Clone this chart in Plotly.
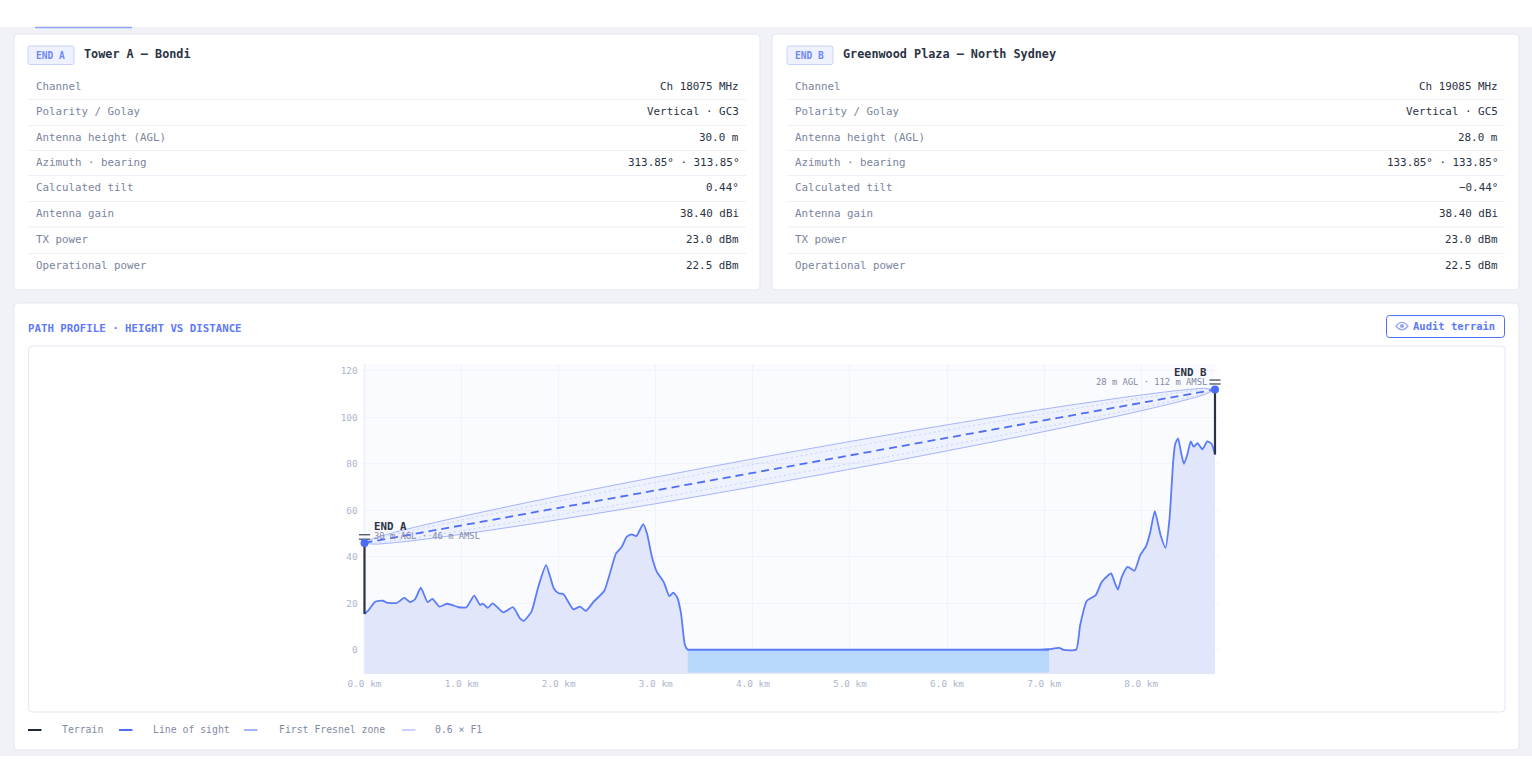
import plotly.graph_objects as go

W, H = 1532, 784
MONO = "DejaVu Sans Mono"

# Radio parameters for the two link ends
row_labels = ["Channel", "Polarity / Golay", "Antenna height (AGL)", "Azimuth · bearing",
              "Calculated tilt", "Antenna gain", "TX power", "Operational power"]
end_a_values = ["Ch 18075 MHz", "Vertical · GC3", "30.0 m", "313.85° · 313.85°",
                "0.44°", "38.40 dBi", "23.0 dBm", "22.5 dBm"]
end_b_values = ["Ch 19085 MHz", "Vertical · GC5", "28.0 m", "133.85° · 133.85°",
                "−0.44°", "38.40 dBi", "23.0 dBm", "22.5 dBm"]

# Ground profile along the path
terrain_km = [0, .04, .11, .19, .23, .33, .41, .47, .52, .58, .65, .70, .77, .85, .90, .97, 1.05,
              1.13, 1.19, 1.22, 1.27, 1.32, 1.43, 1.53, 1.60, 1.64, 1.72, 1.79, 1.87, 1.95, 2.0,
              2.05, 2.15, 2.22, 2.28, 2.36, 2.47, 2.59, 2.65, 2.70, 2.75, 2.80, 2.87, 2.91, 2.96,
              3.01, 3.08, 3.14, 3.18, 3.22, 3.26, 3.30, 3.33, 7.0, 7.06, 7.155, 7.2, 7.33, 7.37,
              7.44, 7.53, 7.59, 7.66, 7.69, 7.73, 7.76, 7.80, 7.86, 7.93, 7.99, 8.05, 8.09, 8.14,
              8.20, 8.25, 8.29, 8.33, 8.35, 8.38, 8.41, 8.44, 8.475, 8.51, 8.54, 8.58, 8.63, 8.68,
              8.725, 8.76]
terrain_m = [15.4, 17, 20.7, 21.1, 20.3, 20.1, 22.3, 20.5, 21.7, 26.7, 20.5, 21.9, 18.6, 19.8, 19.3,
             18.3, 18.3, 23.3, 19.3, 19.9, 18, 20, 16.1, 18.3, 13.6, 12.4, 16.4, 27.1, 36.4, 26.4,
             24.3, 23.9, 17.4, 18.6, 16.7, 20.7, 25.4, 41.4, 44.3, 48.6, 49.7, 48.9, 54.1, 50, 40,
             33.6, 29.3, 23.1, 24.6, 22.6, 15.7, 2.1, 0, 0, 0.3, 0.8, 0, 0, 10.4, 21.1, 23.4, 28.9,
             32.1, 32.9, 28.6, 25.9, 31.4, 35.7, 34, 40.7, 44.6, 50, 59.7, 49.3, 43.9, 55.7, 81.4,
             88.6, 91, 85, 80, 84, 89.7, 87.4, 88.9, 86.3, 89.7, 88.6, 84]
floor_km = [0, 8.76]
floor_m = [-10, -10]
water_km = [3.33, 7.05, 7.05, 3.33, 3.33]
water_m = [0, 0, -10, -10, 0]

# Line of sight and Fresnel envelopes
los_km = [0, 8.76]
los_m = [46, 112]
zone_km = [0, .1, .25, .5, 1, 1.5, 2, 3, 4, 4.38, 4.76, 5.76, 6.76, 7.26, 7.76, 8.26, 8.51, 8.66, 8.76]
f1_upper = [46, 48.03, 49.89, 52.57, 57.36, 61.84, 66.13, 74.32, 82.15, 85.03, 87.87, 95.12, 101.99,
            105.24, 108.29, 111.03, 112.12, 112.53, 112]
f1_lower = [46, 45.47, 45.87, 46.97, 49.7, 52.76, 56.01, 62.88, 70.13, 72.97, 75.85, 83.68, 91.87,
            96.16, 100.63, 105.43, 108.1, 109.97, 112]
f06_upper = [46, 47.52, 49.09, 51.45, 55.83, 60.02, 64.11, 72.03, 79.75, 82.62, 85.47, 92.83, 99.97,
             103.42, 106.76, 109.91, 111.32, 112.02, 112]
f06_lower = [46, 45.98, 46.67, 48.09, 51.23, 54.58, 58.03, 65.17, 72.53, 75.38, 78.25, 85.97, 93.89,
             97.98, 102.16, 106.55, 108.9, 110.48, 112]

# Antenna masts
mast_km_a, mast_m_a = [0, 0], [15.4, 46]
mast_km_b, mast_m_b = [8.76, 8.76], [84, 112]
antenna_km = [0, 0, 8.76, 8.76]
antenna_m = [47.6, 49.5, 114.4, 116.1]
site_km = [0, 8.76]
site_m = [46, 112]

x_ticks = [0, 1, 2, 3, 4, 5, 6, 7, 8]
x_tick_labels = ["0.0 km", "1.0 km", "2.0 km", "3.0 km", "4.0 km", "5.0 km", "6.0 km", "7.0 km", "8.0 km"]
y_ticks = [0, 20, 40, 60, 80, 100, 120]

legend_labels = ["Terrain", "Line of sight", "First Fresnel zone", "0.6 × F1"]
legend_colors = ["#1f2937", "#4f6ef7", "#a5b4fc", "#c7d2fe"]

INK = "#2a3344"
MUTED = "#7a859e"
ACCENT = "#4f6ef7"
TICK = "#adb6cc"
BORDER = "#e3e7f3"
RULE = "#eceff6"
GRID = "#f1f3f9"
AXIS = "#dfe4f5"

# Plot frame in page pixels; the x axis runs a few pixels past both ends
# so the masts at 0 km and at the far end are not cut in half by the clip.
PLOT_L, PLOT_R, PLOT_T, PLOT_B = 364.5, 1215, 364, 673
X_PAD = 3
KM_PX = (PLOT_R - PLOT_L) / 8.76


def px(x):
    return x / W


def py(y):
    return 1 - y / H


def round_rect(x0, y0, x1, y1, r):
    p = [(x0 + r, y0), (x1 - r, y0), (x1, y0), (x1, y0 + r), (x1, y1 - r), (x1, y1),
         (x1 - r, y1), (x0 + r, y1), (x0, y1), (x0, y1 - r), (x0, y0 + r), (x0, y0), (x0 + r, y0)]
    f = lambda q: f"{px(q[0]):.5f},{py(q[1]):.5f}"
    return (f"M{f(p[0])} L{f(p[1])} Q{f(p[2])} {f(p[3])} L{f(p[4])} Q{f(p[5])} {f(p[6])} "
            f"L{f(p[7])} Q{f(p[8])} {f(p[9])} L{f(p[10])} Q{f(p[11])} {f(p[12])} Z")


shapes, notes = [], []


def box(x0, y0, x1, y1, fill, line=None, r=0, lw=1):
    shapes.append(dict(type="path", xref="paper", yref="paper", layer="below",
                       path=round_rect(x0, y0, x1, y1, r) if r else
                       f"M{px(x0):.5f},{py(y0):.5f} L{px(x1):.5f},{py(y0):.5f} L{px(x1):.5f},{py(y1):.5f} L{px(x0):.5f},{py(y1):.5f} Z",
                       fillcolor=fill, line=dict(color=line or fill, width=lw if line else 0)))


def rule(x0, x1, y, color, lw=1):
    shapes.append(dict(type="line", xref="paper", yref="paper", layer="below",
                       x0=px(x0), x1=px(x1), y0=py(y), y1=py(y), line=dict(color=color, width=lw)))


def label(x, y, text, size, color, anchor="left", bold=False):
    notes.append(dict(xref="paper", yref="paper", x=px(x), y=py(y), text=f"<b>{text}</b>" if bold else text,
                      showarrow=False, xanchor=anchor, yanchor="middle", borderpad=0, borderwidth=0,
                      font=dict(family=MONO, size=size, color=color)))


# Page backdrop and cards
box(0, 27, W, 756, "#f0f2f8")
rule(35, 132, 27.5, "#8fa2f7", 1.5)
box(14, 34, 760, 290, "#ffffff", BORDER, 4)
box(772, 34, 1519, 290, "#ffffff", BORDER, 4)
box(14, 303, 1519, 750, "#ffffff", BORDER, 4)
box(28.5, 346, 1505, 712, "#ffffff", BORDER, 4)
box(PLOT_L, PLOT_T, PLOT_R, PLOT_B, "#fafbff")

# Link-end tables
row_centres = [86, 111, 137, 162.6, 187.6, 213.6, 239.6, 265]
row_rules = [99.5, 125.5, 150.5, 175.5, 201.5, 227, 253.5]
for left, chip, title, values in [
    (28, "END A", "Tower A — Bondi", end_a_values),
    (787, "END B", "Greenwood Plaza — North Sydney", end_b_values),
]:
    box(left, 46, left + 46, 64.5, "#eef2ff", "#c7d2fe", 2)
    label(left + 8, 55.5, chip, 9.6, "#6f88f8", bold=True)
    label(left + 56, 54, title, 11.8, INK, bold=True)
    for y, name, value in zip(row_centres, row_labels, values):
        label(left + 8, y, name, 10.8, MUTED)
        label(left + 711, y, value, 10.9, INK, anchor="right")
    for y in row_rules:
        rule(left, left + 718, y, RULE)

# Profile card header and audit button
label(28, 328.5, "PATH PROFILE · HEIGHT VS DISTANCE", 10.75, "#6079f7", bold=True)
box(1386.5, 315.5, 1504.5, 337.5, "#ffffff", ACCENT, 3)
label(1413, 326, "Audit terrain", 10.5, "#6079f7", bold=True)
cx, cy = 1402, 326
eye = (f"M{px(cx - 6):.5f},{py(cy):.5f} Q{px(cx):.5f},{py(cy - 7.5):.5f} {px(cx + 6):.5f},{py(cy):.5f} "
       f"Q{px(cx):.5f},{py(cy + 7.5):.5f} {px(cx - 6):.5f},{py(cy):.5f} Z")
shapes.append(dict(type="path", xref="paper", yref="paper", layer="above", path=eye,
                   line=dict(color="#8fa2f7", width=1.2)))
shapes.append(dict(type="circle", xref="paper", yref="paper", layer="above",
                   x0=px(cx - 2), x1=px(cx + 2), y0=py(cy + 2), y1=py(cy - 2),
                   fillcolor="#8fa2f7", line=dict(width=0)))

# Legend row below the chart frame
legend_swatches = [28, 119, 244, 402]
legend_text_x = [62, 153, 279, 435]
for sx, tx, name, color in zip(legend_swatches, legend_text_x, legend_labels, legend_colors):
    rule(sx, sx + 13.5, 730, color, 2)
    label(tx, 729.5, name, 9.8, "#7f8aa3")

fig = go.Figure()

fig.add_trace(go.Scatter(x=floor_km, y=floor_m, mode="lines", line=dict(width=0), hoverinfo="skip"))
fig.add_trace(go.Scatter(x=terrain_km, y=terrain_m, mode="lines", fill="tonexty", fillcolor="#e2e6fb",
                         line=dict(color="#5b7cfa", width=1.8, shape="spline", smoothing=0.5),
                         name="Terrain"))
fig.add_trace(go.Scatter(x=water_km, y=water_m, mode="lines", fill="toself", fillcolor="#b8d7fd",
                         line=dict(width=0), hoverinfo="skip"))
# Redraw the water surface so the fill does not hide the profile line
fig.add_trace(go.Scatter(x=water_km[:2], y=water_m[:2], mode="lines",
                         line=dict(color="#5b7cfa", width=1.8), hoverinfo="skip"))

# Axis lines sit above the area fills
rule(PLOT_L, PLOT_R, PLOT_B, AXIS, 1.5)
shapes.append(dict(type="line", xref="paper", yref="paper", layer="above",
                   x0=px(PLOT_L), x1=px(PLOT_R), y0=py(PLOT_B), y1=py(PLOT_B),
                   line=dict(color=AXIS, width=1.2)))
shapes.append(dict(type="line", xref="paper", yref="paper", layer="below",
                   x0=px(PLOT_L), x1=px(PLOT_L), y0=py(PLOT_T), y1=py(PLOT_B),
                   line=dict(color=AXIS, width=1.5)))

fig.add_trace(go.Scatter(x=zone_km, y=f1_lower, mode="lines",
                         line=dict(color="#a5b4fc", width=1, shape="spline"), name="First Fresnel zone"))
fig.add_trace(go.Scatter(x=zone_km, y=f1_upper, mode="lines", fill="tonexty",
                         fillcolor="rgba(79,110,247,0.07)",
                         line=dict(color="#a5b4fc", width=1, shape="spline"), name="First Fresnel zone"))
for series in (f06_upper, f06_lower):
    fig.add_trace(go.Scatter(x=zone_km, y=series, mode="lines",
                             line=dict(color="#c7d2fe", width=1, dash="2px 3px", shape="spline"),
                             name="0.6 × F1"))
fig.add_trace(go.Scatter(x=los_km, y=los_m, mode="lines",
                         line=dict(color=ACCENT, width=1.8, dash="8px 5px"), name="Line of sight"))

for mx, my in [(mast_km_a, mast_m_a), (mast_km_b, mast_m_b)]:
    fig.add_trace(go.Scatter(x=mx, y=my, mode="lines", line=dict(color=INK, width=2.2), hoverinfo="skip"))
fig.add_trace(go.Scatter(x=antenna_km, y=antenna_m, mode="markers", cliponaxis=False, hoverinfo="skip",
                         marker=dict(symbol="line-ew", size=8, line=dict(color="#3a4356", width=1.2))))
fig.add_trace(go.Scatter(x=site_km, y=site_m, mode="markers", cliponaxis=False, hoverinfo="skip",
                         marker=dict(size=8, color="#4a6cf7")))

# Site captions are tied to the site positions
for x, y, head, sub, anchor, shift, lift_head, lift_sub in [
    (0, 46, "END A", "30 m AGL · 46 m AMSL", "left", 8, 16, 6.5),
    (8.76, 112, "END B", "28 m AGL · 112 m AMSL", "right", -7.5, 17.5, 7.5),
]:
    notes.append(dict(xref="x", yref="y", x=x, y=y, text=f"<b>{head}</b>", showarrow=False, xanchor=anchor,
                      yanchor="middle", xshift=shift, yshift=lift_head, borderpad=0,
                      font=dict(family=MONO, size=10.8, color=INK)))
    notes.append(dict(xref="x", yref="y", x=x, y=y, text=sub, showarrow=False, xanchor=anchor,
                      yanchor="middle", xshift=shift, yshift=lift_sub, borderpad=0,
                      font=dict(family=MONO, size=8.8, color="#7f8aa3")))

fig.update_layout(
    width=W, height=H, margin=dict(l=0, r=0, t=0, b=0), showlegend=False, hovermode=False,
    paper_bgcolor="#ffffff", plot_bgcolor="rgba(0,0,0,0)",
    shapes=shapes, annotations=notes,
    xaxis=dict(domain=[px(PLOT_L - X_PAD), px(PLOT_R + X_PAD)],
               range=[-X_PAD / KM_PX, 8.76 + X_PAD / KM_PX], tickmode="array", tickvals=x_ticks,
               ticktext=x_tick_labels, showgrid=True, gridcolor=GRID, gridwidth=1, zeroline=False,
               showline=False, ticks="outside", ticklen=2,
               tickcolor="rgba(0,0,0,0)", automargin=False,
               tickfont=dict(family=MONO, size=9.4, color=TICK)),
    yaxis=dict(domain=[1 - PLOT_B / H, 1 - PLOT_T / H], range=[-10, 123], anchor="x",
               position=px(PLOT_L), tickmode="array", tickvals=y_ticks,
               showgrid=True, gridcolor=GRID, gridwidth=1, zeroline=False,
               showline=False, ticks="outside", ticklen=1,
               tickcolor="rgba(0,0,0,0)", automargin=False,
               tickfont=dict(family=MONO, size=9.4, color=TICK)),
)

fig.write_html("out.html", config=dict(displayModeBar=False))
